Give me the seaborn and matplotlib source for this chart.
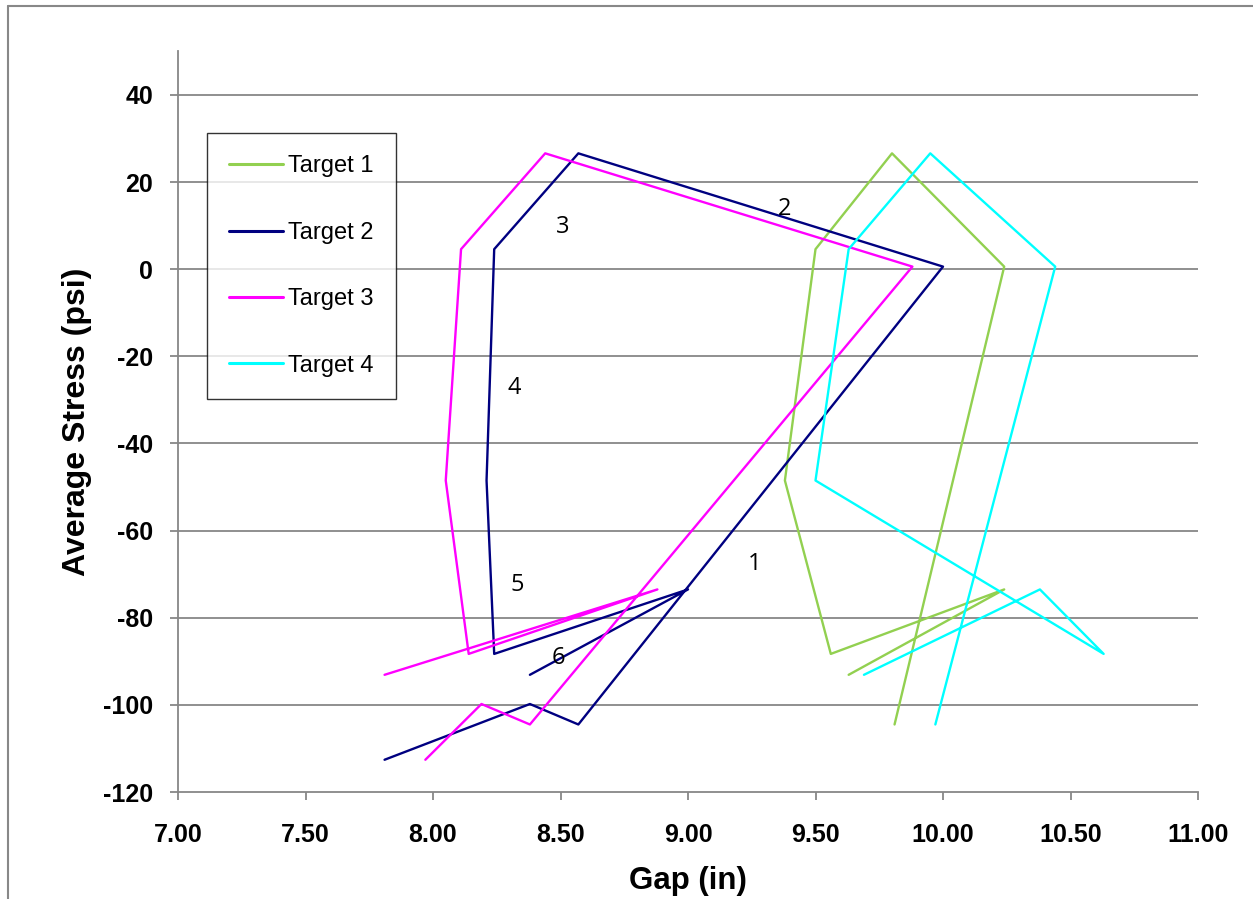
import numpy as np
import pandas as pd
import matplotlib
matplotlib.use("Agg")
import matplotlib.pyplot as plt
from matplotlib.lines import Line2D
import seaborn as sns

# Stress history shared by every target (psi)
stress = [-112.6, -99.8, -104.5, 0.6, 26.6, 4.6, -48.5, -88.3, -73.5, -93.1]

# Gap readings for each target (in); NaN where no reading was taken
gap_t1 = [np.nan, np.nan, 9.81, 10.24, 9.80, 9.50, 9.38, 9.56, 10.24, 9.63]
gap_t2 = [7.81, 8.38, 8.57, 10.00, 8.57, 8.24, 8.21, 8.24, 9.00, 8.38]
gap_t3 = [7.97, 8.19, 8.38, 9.88, 8.44, 8.11, 8.05, 8.14, 8.88, 7.81]
gap_t4 = [np.nan, np.nan, 9.97, 10.44, 9.95, 9.63, 9.50, 10.63, 10.38, 9.69]

targets = ["Target 1", "Target 2", "Target 3", "Target 4"]
colors = ["#92D050", "#000080", "#FF00FF", "#00FFFF"]

# Load-step labels and where they sit
step_labels = ["1", "2", "3", "4", "5", "6"]
step_x = [9.26, 9.38, 8.51, 8.32, 8.33, 8.49]
step_y = [-67.7, 13.8, 9.7, -27.3, -72.5, -89.2]

x_ticks = [7.0, 7.5, 8.0, 8.5, 9.0, 9.5, 10.0, 10.5, 11.0]
y_ticks = [-120, -100, -80, -60, -40, -20, 0, 20, 40]

rows = []
for name, gaps in zip(targets, [gap_t1, gap_t2, gap_t3, gap_t4]):
    for i, (g, s) in enumerate(zip(gaps, stress)):
        if not np.isnan(g):
            rows.append({"target": name, "step": i, "gap": g, "stress": s})
df = pd.DataFrame(rows)

sns.set_theme(style="white")
plt.rcParams["font.family"] = ["Liberation Sans", "DejaVu Sans"]
plt.rcParams["text.color"] = "black"
plt.rcParams["axes.labelcolor"] = "black"

fig = plt.figure(figsize=(12.53, 8.99), dpi=100)
ax = fig.add_axes([178 / 1253, 1 - 792 / 899, 1020 / 1253, 740.6 / 899])

sns.lineplot(data=df, x="gap", y="stress", hue="target", hue_order=targets,
             palette=colors, sort=False, estimator=None, units="target",
             linewidth=1.7, ax=ax, legend=False)

ax.set_xlim(7.0, 11.0)
ax.set_ylim(-120, 50)
ax.set_xticks(x_ticks)
ax.set_xticklabels([f"{v:.2f}" for v in x_ticks])
ax.set_yticks(y_ticks)
ax.set_yticklabels([f"{v:d}" for v in y_ticks])

grid_c = "#878787"
for v in y_ticks[1:]:
    ax.axhline(v, color=grid_c, lw=1.3, zorder=0)
for side in ["top", "right"]:
    ax.spines[side].set_visible(False)
for side in ["left", "bottom"]:
    ax.spines[side].set_color(grid_c)
    ax.spines[side].set_linewidth(1.3)

ax.tick_params(axis="both", direction="out", length=6, width=1.3, color=grid_c,
               labelcolor="black", labelsize=18, left=True, bottom=True)
ax.tick_params(axis="y", pad=12)
ax.tick_params(axis="x", pad=16)
for lbl in ax.get_xticklabels() + ax.get_yticklabels():
    lbl.set_fontweight("bold")

ax.set_xlabel("Gap (in)", fontsize=22.5, fontweight="bold", labelpad=14)
ax.set_ylabel("Average Stress (psi)", fontsize=23, fontweight="bold", labelpad=8)

for t, x, y in zip(step_labels, step_x, step_y):
    ax.text(x, y, t, fontsize=17, family=["Open Sans", "DejaVu Sans"],
            ha="center", va="center", color="black")

handles = [Line2D([], [], color=c, lw=2.2) for c in colors]
leg = fig.legend(handles, targets, loc="upper left",
                 bbox_to_anchor=(207 / 1253, 1 - 133 / 899),
                 frameon=True, fancybox=False, fontsize=17,
                 handlelength=2.25, handletextpad=0.22, labelspacing=1.88,
                 borderpad=0.95, borderaxespad=0)
leg.get_frame().set_edgecolor("black")
leg.get_frame().set_linewidth(1.0)

# Chart-area border (top and left edges)
fig.add_artist(Line2D([8 / 1253, 8 / 1253], [0, 1 - 6 / 899], color="#888888",
                      lw=1.5, transform=fig.transFigure))
fig.add_artist(Line2D([8 / 1253, 1], [1 - 6 / 899, 1 - 6 / 899], color="#888888",
                      lw=1.5, transform=fig.transFigure))

fig.savefig("out.png", dpi=100)
